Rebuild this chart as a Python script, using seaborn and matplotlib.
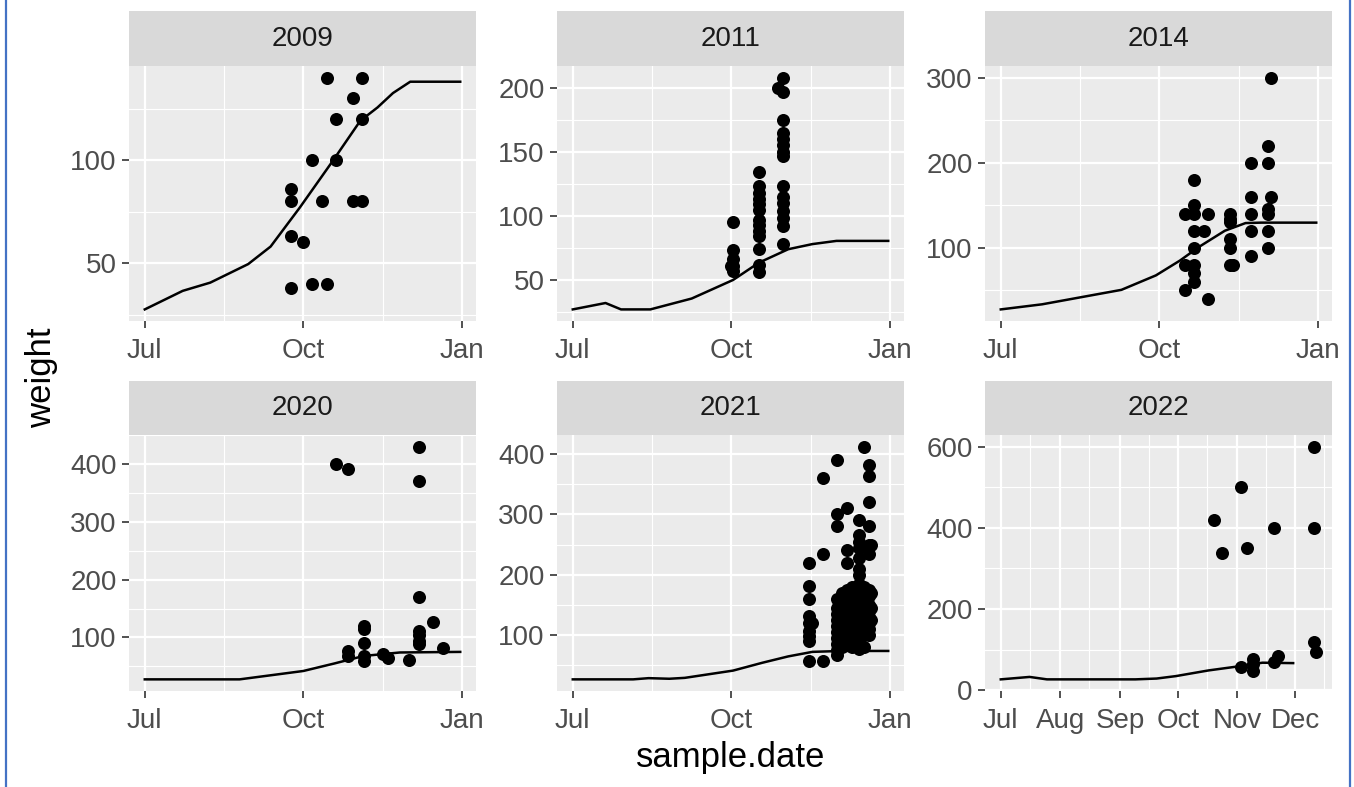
import matplotlib
matplotlib.use("Agg")
import matplotlib.pyplot as plt
import matplotlib.dates as mdates
from matplotlib.lines import Line2D
from matplotlib.ticker import MultipleLocator
import pandas as pd
import seaborn as sns

# ---- data: sampled weights (points) and fitted curve (line) per year ----
years = [2009, 2011, 2014, 2020, 2021, 2022]

pt_dates_2009 = ["09-24"] * 4 + ["10-01"] + ["10-06"] * 2 + ["10-12"] + ["10-15"] * 2 + \
    ["10-20"] * 2 + ["10-30"] * 2 + ["11-04"] * 3
pt_weight_2009 = [38, 63, 80, 86, 60, 100, 40, 80, 140, 40, 120, 100, 130, 80, 140, 120, 80]
ln_dates_2009 = ["07-01", "07-23", "08-08", "08-30", "09-12", "09-29", "10-18", "11-03",
                 "11-13", "11-22", "12-02", "12-31"]
ln_weight_2009 = [27.5, 36.5, 40.5, 49.5, 58, 77, 99.5, 119, 125.5, 132.5, 138, 138]

pt_dates_2011 = ["10-01"] + ["10-02"] * 5 + ["10-17"] * 13 + ["10-28"] + ["10-31"] * 15
pt_weight_2011 = [61,
                  95, 73, 66, 61, 57,
                  134, 123, 118, 113, 109, 105, 97, 93, 88, 84, 74, 62, 56,
                  200,
                  208, 197, 175, 165, 160, 155, 150, 147, 123, 115, 110, 104, 98, 92, 78]
ln_dates_2011 = ["07-01", "07-20", "07-29", "08-15", "09-08", "10-02", "10-17", "11-03",
                 "11-17", "12-01", "12-31"]
ln_weight_2011 = [27, 32, 27, 27, 35.5, 50, 63.5, 74, 78, 80.5, 80.5]

pt_dates_2014 = ["10-16"] * 3 + ["10-21"] * 8 + ["10-27"] + ["10-29"] * 2 + ["11-11"] * 6 + \
    ["11-13"] + ["11-23"] * 5 + ["12-03"] * 6 + ["12-05"] * 2
pt_weight_2014 = [140, 80, 50,
                  180, 150, 140, 120, 100, 80, 70, 60,
                  120,
                  140, 40,
                  140, 134, 130, 110, 100, 80,
                  80,
                  200, 160, 140, 120, 90,
                  220, 200, 145, 140, 120, 100,
                  300, 160]
ln_dates_2014 = ["07-01", "07-25", "08-17", "09-09", "09-29", "10-13", "10-24", "11-08",
                 "11-20", "11-29", "12-31"]
ln_weight_2014 = [27.5, 33.5, 42, 50.5, 67.5, 85, 101, 120, 129, 129.5, 129.5]

pt_dates_2020 = ["10-20"] + ["10-27"] * 3 + ["11-05"] * 5 + ["11-16", "11-19", "12-01"] + \
    ["12-07"] * 7 + ["12-15", "12-21"]
pt_weight_2020 = [400,
                  391, 76, 68,
                  120, 115, 90, 68, 60,
                  71, 65, 61,
                  430, 371, 170, 112, 105, 94, 89,
                  126, 82]
ln_dates_2020 = ["07-01", "08-25", "09-17", "10-01", "10-19", "11-05", "11-26", "12-31"]
ln_weight_2020 = [27.5, 27.5, 36.5, 42, 55, 68, 74, 75]

pt_dates_2021 = ["11-15"] * 9 + ["11-17"] + ["11-23"] * 3 + ["12-01"] * 13 + ["12-04"] * 6 + \
    ["12-07"] * 9 + ["12-10"] * 7 + ["12-14"] * 15 + ["12-17"] * 7 + ["12-20"] * 14 + \
    ["12-21"] * 4
pt_weight_2021 = [219, 181, 160, 131, 120, 107, 98, 90, 57,
                  120,
                  360, 234, 57,
                  390, 300, 280, 160, 145, 135, 125, 115, 105, 95, 85, 75, 68,
                  170, 150, 130, 110, 90, 80,
                  310, 241, 220, 175, 155, 140, 120, 100, 85,
                  180, 160, 140, 125, 110, 95, 80,
                  291, 266, 255, 245, 228, 210, 200, 185, 170, 150, 135, 120, 105, 90, 78,
                  412, 180, 160, 140, 120, 100, 80,
                  382, 363, 321, 280, 250, 235, 175, 165, 150, 140, 130, 120, 110, 100,
                  250, 170, 145, 125]
ln_dates_2021 = ["07-01", "08-05", "08-14", "08-26", "09-04", "10-02", "10-19", "11-03",
                 "11-17", "12-04", "12-31"]
ln_weight_2021 = [27, 27, 29, 28, 29.5, 41.5, 54.5, 65, 72.5, 74, 74]

pt_dates_2022 = ["10-20", "10-24"] + ["11-03"] * 2 + ["11-06"] + ["11-09"] * 3 + \
    ["11-20"] * 2 + ["11-22"] + ["12-11"] * 3 + ["12-12"]
pt_weight_2022 = [420, 339, 500, 58, 350, 76, 65, 48, 400, 70, 85, 600, 400, 119, 95]
ln_dates_2022 = ["07-01", "07-16", "07-25", "09-09", "09-20", "09-30", "10-17", "10-31",
                 "11-14", "11-30"]
ln_weight_2022 = [27, 33, 27, 27, 29, 35, 49, 58, 68, 67]

points = {
    2009: (pt_dates_2009, pt_weight_2009), 2011: (pt_dates_2011, pt_weight_2011),
    2014: (pt_dates_2014, pt_weight_2014), 2020: (pt_dates_2020, pt_weight_2020),
    2021: (pt_dates_2021, pt_weight_2021), 2022: (pt_dates_2022, pt_weight_2022),
}
curves = {
    2009: (ln_dates_2009, ln_weight_2009), 2011: (ln_dates_2011, ln_weight_2011),
    2014: (ln_dates_2014, ln_weight_2014), 2020: (ln_dates_2020, ln_weight_2020),
    2021: (ln_dates_2021, ln_weight_2021), 2022: (ln_dates_2022, ln_weight_2022),
}
y_step = {2009: 50, 2011: 50, 2014: 100, 2020: 100, 2021: 100, 2022: 200}


def frame(year, dates, weights):
    return pd.DataFrame({
        "sample.date": pd.to_datetime([f"{year}-{d}" for d in dates]),
        "weight": weights,
    })


def expand(lo, hi, frac=0.05):
    r = hi - lo
    return lo - frac * r, hi + frac * r


# ---- styling (grey panel theme) ----
plt.rcParams["font.family"] = ["Liberation Sans", "DejaVu Sans"]
W, H = 1354, 787
fig = plt.figure(figsize=(W / 100, H / 100), dpi=100)
fig.patch.set_facecolor("white")

col_left = [129, 557, 985]
panel_w = 347
panel_top = [66, 435]
panel_bot = [321, 691]
strip_top = [11, 381]

for i, year in enumerate(years):
    r, c = divmod(i, 3)
    left = col_left[c] / W
    w = panel_w / W
    ax = fig.add_axes([left, 1 - panel_bot[r] / H, w, (panel_bot[r] - panel_top[r]) / H])
    sax = fig.add_axes([left, 1 - panel_top[r] / H, w, (panel_top[r] - strip_top[r]) / H])

    pts = frame(year, *points[year])
    crv = frame(year, *curves[year])

    ax.set_facecolor("#EBEBEB")
    sns.scatterplot(data=pts, x="sample.date", y="weight", ax=ax, color="black",
                    s=88, linewidth=0, zorder=3)
    sns.lineplot(data=crv, x="sample.date", y="weight", ax=ax, color="black",
                 linewidth=1.8, zorder=4)

    allx = mdates.date2num(pd.concat([pts["sample.date"], crv["sample.date"]]))
    ally = pd.concat([pts["weight"], crv["weight"]])
    ax.set_xlim(*expand(allx.min(), allx.max()))
    ax.set_ylim(*expand(ally.min(), ally.max()))

    if year == 2022:
        ax.xaxis.set_major_locator(mdates.MonthLocator())
        ax.xaxis.set_minor_locator(mdates.MonthLocator(bymonthday=16))
    else:
        ax.xaxis.set_major_locator(mdates.MonthLocator(bymonth=[1, 4, 7, 10]))
        ax.xaxis.set_minor_locator(mdates.MonthLocator(bymonth=[2, 5, 8, 11], bymonthday=16))
    ax.xaxis.set_major_formatter(mdates.DateFormatter("%b"))
    ax.yaxis.set_major_locator(MultipleLocator(y_step[year]))
    ax.yaxis.set_minor_locator(MultipleLocator(y_step[year] / 2))

    ax.set_axisbelow(True)
    ax.grid(which="major", color="white", linewidth=1.6)
    ax.grid(which="minor", color="white", linewidth=0.8)
    for sp in ax.spines.values():
        sp.set_visible(False)
    ax.tick_params(which="major", length=5, width=1.2, color="#333333",
                   labelcolor="#4D4D4D", labelsize=20)
    ax.tick_params(axis="x", which="major", pad=7)
    ax.tick_params(axis="y", which="major", pad=4)
    ax.tick_params(which="minor", length=0)
    ax.set_xlabel("")
    ax.set_ylabel("")

    sax.set_facecolor("#D9D9D9")
    sax.set_xticks([])
    sax.set_yticks([])
    for sp in sax.spines.values():
        sp.set_visible(False)
    sax.text(0.5, 0.5, str(year), transform=sax.transAxes, ha="center", va="center",
             fontsize=20, color="#1A1A1A")

fig.text(42 / W, 1 - 378 / H, "weight", rotation=90, ha="center", va="center",
         fontsize=25, color="black")
fig.text(731 / W, 1 - 758 / H, "sample.date", ha="center", va="center",
         fontsize=25, color="black")

# thin blue frame at both sides
for xp in (6, 1350):
    fig.add_artist(Line2D([xp / W, xp / W], [0, 1], color="#4472C4", linewidth=1.6,
                          transform=fig.transFigure))

fig.savefig("out.png", dpi=100)
